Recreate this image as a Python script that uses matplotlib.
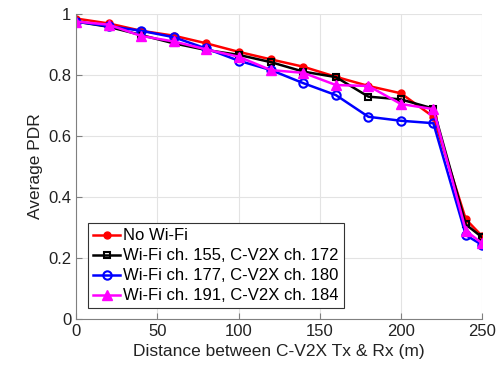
import numpy as np
import matplotlib.pyplot as plt

plt.rcParams['font.family'] = ['Liberation Sans', 'DejaVu Sans']

# distance between Tx and Rx (m)
dist = [0, 20, 40, 60, 80, 100, 120, 140, 160, 180, 200, 220, 240, 250]

pdr_no_wifi = [0.985, 0.969, 0.945, 0.929, 0.904, 0.876, 0.851, 0.827, 0.794, 0.764, 0.740, 0.663, 0.327, 0.272]
pdr_ch155 = [0.975, 0.958, 0.931, 0.904, 0.882, 0.866, 0.842, 0.811, 0.793, 0.729, 0.720, 0.690, 0.310, 0.268]
pdr_ch177 = [0.975, 0.960, 0.945, 0.924, 0.887, 0.847, 0.816, 0.773, 0.734, 0.663, 0.650, 0.642, 0.275, 0.243]
pdr_ch191 = [0.975, 0.965, 0.928, 0.910, 0.884, 0.860, 0.816, 0.807, 0.767, 0.764, 0.705, 0.688, 0.290, 0.248]

labels = ['No Wi-Fi',
          'Wi-Fi ch. 155, C-V2X ch. 172',
          'Wi-Fi ch. 177, C-V2X ch. 180',
          'Wi-Fi ch. 191, C-V2X ch. 184']

fig = plt.figure(figsize=(4.98, 3.78), dpi=100)
ax = fig.add_axes([0.153, 0.156, 0.815, 0.807])

ax.plot(dist, pdr_no_wifi, '-o', color='red', lw=1.8, ms=5, mfc='red', label=labels[0])
ax.plot(dist, pdr_ch155, '-s', color='black', lw=1.8, ms=5, mfc='none', mew=1.5, label=labels[1])
ax.plot(dist, pdr_ch177, '-o', color='blue', lw=1.8, ms=6, mfc='none', mew=1.5, label=labels[2])
ax.plot(dist, pdr_ch191, '-^', color='magenta', lw=1.8, ms=7, mfc='magenta', label=labels[3])

ax.set_xlim(0, 250)
ax.set_ylim(0, 1)
ax.set_xticks(np.arange(0, 251, 50))
ax.set_yticks([0, 0.2, 0.4, 0.6, 0.8, 1])
ax.set_yticklabels(['0', '0.2', '0.4', '0.6', '0.8', '1'])
ax.grid(True, color='#e3e3e3', lw=0.8)
ax.set_axisbelow(True)
for s in ['top', 'right']:
    ax.spines[s].set_visible(False)
for s in ['left', 'bottom']:
    ax.spines[s].set_color('#808080')
ax.tick_params(direction='in', length=4, color='#808080', labelsize=12, labelcolor='#222222')

ax.set_xlabel('Distance between C-V2X Tx & Rx (m)', fontsize=12.5, color='#222222')
ax.set_ylabel('Average PDR', fontsize=12.5, color='#222222')

leg = ax.legend(loc='lower left', bbox_to_anchor=(0.03, 0.035), fontsize=12,
                fancybox=False, edgecolor='#333333', framealpha=1,
                handlelength=1.6, handletextpad=0.2, borderpad=0.3, labelspacing=0.3,
                borderaxespad=0)
leg.get_frame().set_linewidth(0.8)

fig.savefig('out.png', dpi=100)
